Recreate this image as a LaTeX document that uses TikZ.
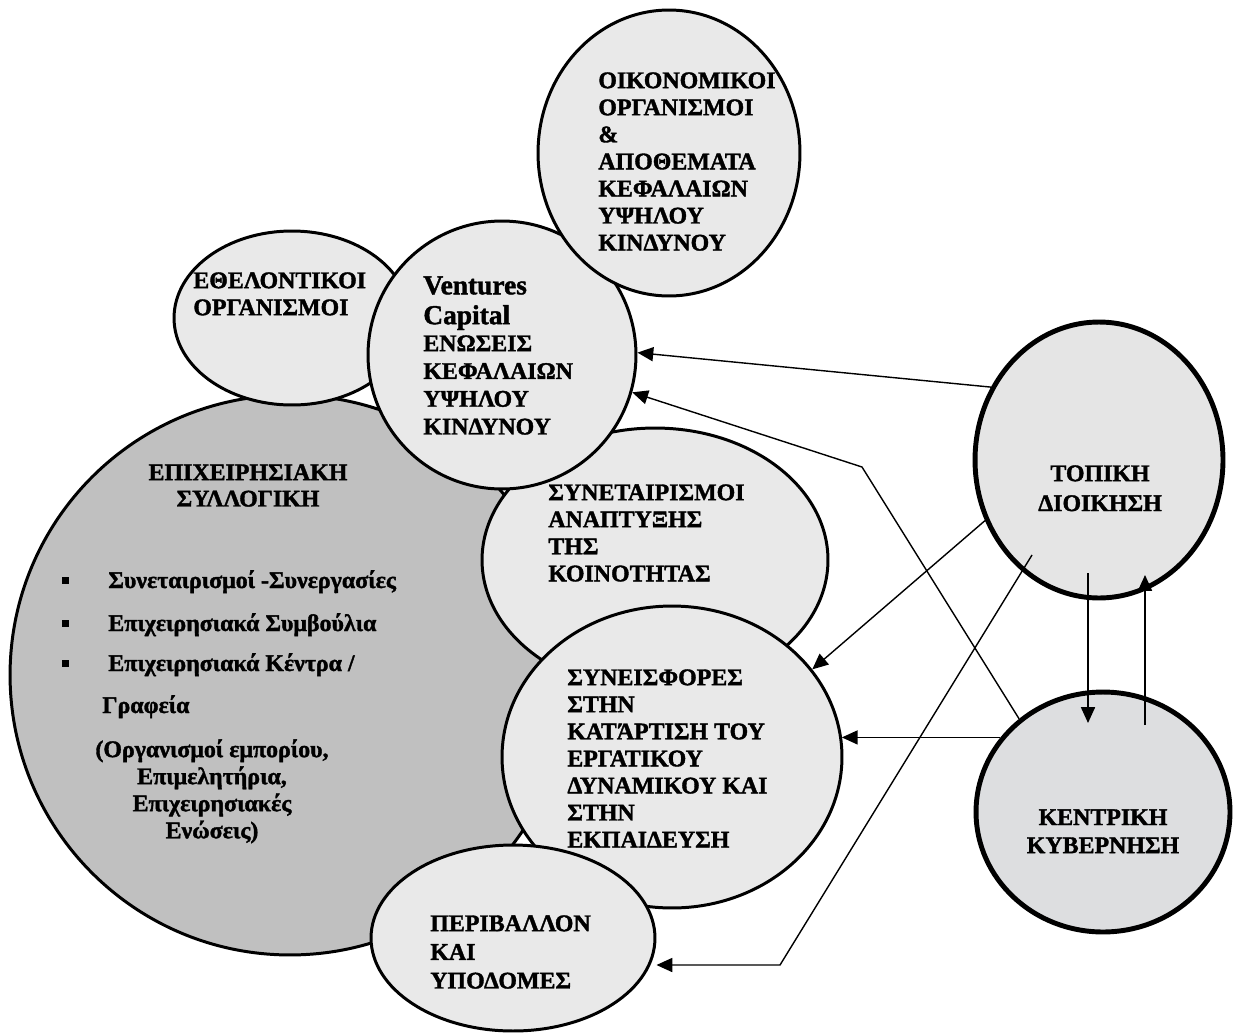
\documentclass[tikz,border=0pt]{standalone}
\usepackage{fontspec}
\setmainfont{Liberation Serif}[BoldFeatures={FakeBold=1.5}]
\usetikzlibrary{arrows.meta,shapes.geometric}

\definecolor{lightfill}{RGB}{233,233,233}
\definecolor{darkfill}{RGB}{192,192,192}
\definecolor{granite}{RGB}{229,229,229}
\definecolor{marble}{RGB}{221,222,224}

\newcommand{\bul}{\makebox[0.92cm][l]{\rule[2.5pt]{4pt}{4pt}}}

\begin{document}
\begin{tikzpicture}[x=0.02cm, y=-0.02cm,
    blob/.style={ellipse, draw, line width=1.7pt, fill=lightfill, inner sep=0pt},
    gov/.style={ellipse, draw, line width=2.8pt, inner sep=0pt},
    lbl/.style={font=\bfseries\fontsize{13.6}{15.4}\selectfont, inner sep=0pt, align=left, anchor=north west},
    arr/.style={-{Triangle[length=9pt,width=8pt]}, line width=0.8pt}]
        \useasboundingbox (0,0) rectangle (1236,1034);

        % Draw the big circle and the bubbles round it
        \node[blob, fill=darkfill, minimum width=11.2cm, minimum height=11.2cm] (EPX) at (290,675) {};
        \node[blob, minimum width=4.72cm, minimum height=3.48cm] (EO) at (292,318) {};
        \node[blob, minimum width=6.92cm, minimum height=5.28cm] (SA) at (655,560) {};
        \node[blob, minimum width=5.36cm, minimum height=5.36cm] (VC) at (502,355) {};
        \node[blob, minimum width=5.24cm, minimum height=5.72cm] (OIK) at (669,153) {};
        \node[blob, minimum width=6.8cm, minimum height=6.04cm] (SE) at (672,757) {};
        \node[blob, minimum width=5.68cm, minimum height=3.72cm] (PY) at (513,938) {};

        % Draw the two government circles
        \node[gov, fill=granite, minimum width=4.96cm, minimum height=5.52cm] (TD) at (1099,460) {};
        \node[gov, fill=marble, minimum width=5.08cm, minimum height=4.8cm] (KK) at (1103,812) {};

        % Texts of the bubbles
        \node[lbl] (OIKt) at (598,72) {ΟΙΚΟΝΟΜΙΚΟΙ\\ΟΡΓΑΝΙΣΜΟΙ\\\&\\ΑΠΟΘΕΜΑΤΑ\\ΚΕΦΑΛΑΙΩΝ\\ΥΨΗΛΟΥ\\ΚΙΝΔΥΝΟΥ};
        \node[lbl, font=\bfseries\fontsize{15.6}{17}\selectfont] (VCa) at (423,276) {Ventures\\Capital};
        \node[lbl, font=\bfseries\fontsize{13.6}{15.8}\selectfont] (VCt) at (423,335) {ΕΝΩΣΕΙΣ\\ΚΕΦΑΛΑΙΩΝ\\ΥΨΗΛΟΥ\\ΚΙΝΔΥΝΟΥ};
        \node[lbl] (EOt) at (193,272) {ΕΘΕΛΟΝΤΙΚΟΙ\\ΟΡΓΑΝΙΣΜΟΙ};
        \node[lbl] (SAt) at (548,484) {ΣΥΝΕΤΑΙΡΙΣΜΟΙ\\ΑΝΑΠΤΥΞΗΣ\\ΤΗΣ\\ΚΟΙΝΟΤΗΤΑΣ};
        \node[lbl] (SEt) at (567,669) {ΣΥΝΕΙΣΦΟΡΕΣ\\ΣΤΗΝ\\ΚΑΤΆΡΤΙΣΗ ΤΟΥ\\ΕΡΓΑΤΙΚΟΥ\\ΔΥΝΑΜΙΚΟΥ ΚΑΙ\\ΣΤΗΝ\\ΕΚΠΑΙΔΕΥΣΗ};
        \node[lbl, font=\bfseries\fontsize{13.6}{16.3}\selectfont] (PYt) at (430,915) {ΠΕΡΙΒΑΛΛΟΝ\\ΚΑΙ\\ΥΠΟΔΟΜΕΣ};
        \node[lbl, anchor=north, align=center, font=\bfseries\fontsize{13.6}{17}\selectfont] (TDt) at (1100,465) {ΤΟΠΙΚΗ\\ΔΙΟΙΚΗΣΗ};
        \node[lbl, anchor=north, align=center, font=\bfseries\fontsize{13.6}{16}\selectfont] (KKt) at (1103,809) {ΚΕΝΤΡΙΚΗ\\ΚΥΒΕΡΝΗΣΗ};

        % Text of the big circle
        \node[lbl, anchor=north, align=center, font=\bfseries\fontsize{13.6}{15}\selectfont] (EPXt) at (248,464) {ΕΠΙΧΕΙΡΗΣΙΑΚΗ\\ΣΥΛΛΟΓΙΚΗ};
        \node[lbl, anchor=base west] (B1) at (62,588) {\bul Συνεταιρισμοί -Συνεργασίες};
        \node[lbl, anchor=base west] (B2) at (62,631) {\bul Επιχειρησιακά Συμβούλια};
        \node[lbl, anchor=base west] (B3) at (62,671) {\bul Επιχειρησιακά Κέντρα /};
        \node[lbl, anchor=base west] (B4) at (102,713) {Γραφεία};
        \node[lbl, anchor=north, align=center] (B5) at (212,739) {(Οργανισμοί εμπορίου,\\Επιμελητήρια,\\Επιχειρησιακές\\Ενώσεις)};

        % Define the bends and free ends of the arrows
        \coordinate (k1) at (862,467);
        \coordinate (k2) at (780,965);
        \coordinate (t5) at (1032,555);
        \coordinate (d1) at (1088,573);
        \coordinate (d2) at (1088,723);
        \coordinate (u1) at (1145,725);
        \coordinate (u2) at (1145,575);

        % Draw the arrows
        \draw[arr] (TD.146) -- (VC.1);
        \draw[arr] (KK.132) -- (k1) -- (VC.-16);
        \draw[arr] (TD.208) -- (SE.32);
        \draw[arr] (KK.144) -- (SE.7 |- KK.144);
        \draw[arr] (t5) -- (k2) -- (k2 -| PY.east);
        \draw[arr] (d1) -- (d2);
        \draw[arr] (u1) -- (u2);
    \end{tikzpicture}
\end{document}
